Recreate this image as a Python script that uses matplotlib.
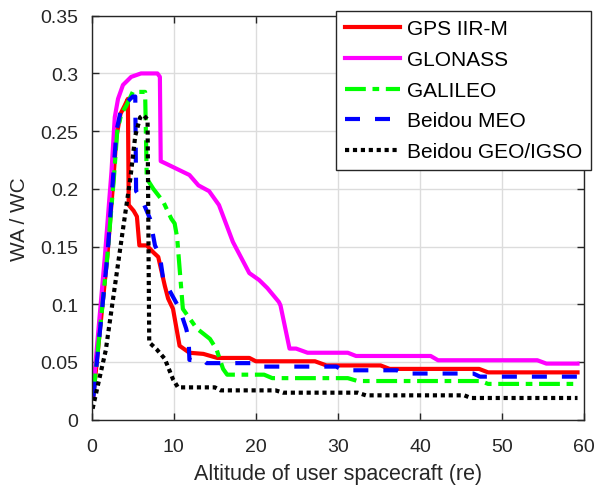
import matplotlib
matplotlib.use('Agg')
import matplotlib.pyplot as plt

plt.rcParams['font.family'] = ['Liberation Sans', 'DejaVu Sans']
plt.rcParams['font.size'] = 14

# WA/WC ratio versus user altitude for each constellation
x_gps = [0.2, 1.9, 2.6, 3.0, 3.5, 4.0, 4.4, 4.5, 5.1, 5.5, 5.8, 6.7, 7.5, 8.1, 8.9, 9.3, 9.9,
         10.7, 11.9, 13.6, 15.3, 19.2, 20.0, 27.2, 28.6, 35.2, 36.3, 47.2, 48.3, 59.2]
y_gps = [0.021, 0.142, 0.205, 0.245, 0.265, 0.272, 0.278, 0.186, 0.181, 0.176, 0.151, 0.151,
         0.145, 0.141, 0.116, 0.105, 0.096, 0.064, 0.058, 0.057, 0.0535, 0.0535, 0.0506,
         0.0506, 0.047, 0.047, 0.044, 0.044, 0.041, 0.041]

x_glonass = [0.1, 1.6, 2.4, 2.8, 3.2, 3.8, 4.8, 6.0, 8.0, 8.3, 8.4, 9.0, 11.9, 13.0, 14.3,
             15.5, 17.2, 19.2, 20.4, 21.4, 22.8, 23.0, 24.1, 24.9, 26.3, 31.2, 32.2, 41.3,
             42.2, 54.3, 55.4, 59.2]
y_glonass = [0.02, 0.142, 0.215, 0.262, 0.278, 0.29, 0.297, 0.3, 0.3, 0.297, 0.224, 0.222,
             0.212, 0.203, 0.198, 0.186, 0.154, 0.127, 0.121, 0.114, 0.102, 0.099, 0.0616,
             0.0616, 0.058, 0.058, 0.0552, 0.0552, 0.0515, 0.0515, 0.0486, 0.0486]

x_galileo = [0.2, 1.9, 2.7, 3.1, 3.6, 4.2, 5.0, 6.5, 6.7, 7.5, 8.7, 9.7, 10.1, 10.4, 11.1,
             12.8, 14.4, 15.2, 16.0, 16.5, 21.0, 22.0, 31.2, 32.4, 47.4, 48.3, 59.2]
y_galileo = [0.022, 0.142, 0.21, 0.25, 0.265, 0.272, 0.284, 0.284, 0.209, 0.2, 0.189, 0.174,
             0.17, 0.158, 0.096, 0.079, 0.07, 0.061, 0.044, 0.039, 0.039, 0.036, 0.036,
             0.0335, 0.0335, 0.031, 0.031]

x_meo = [0.2, 1.9, 2.6, 3.0, 3.6, 4.4, 5.0, 5.3, 5.4, 6.1, 7.1, 7.7, 8.3, 8.7, 10.7, 11.5,
         11.8, 11.9, 13.6, 14.0, 19.8, 20.5, 29.8, 30.6, 37.2, 38.0, 46.5, 47.3, 59.2]
y_meo = [0.02, 0.142, 0.21, 0.25, 0.27, 0.276, 0.28, 0.28, 0.198, 0.191, 0.174, 0.151, 0.142,
         0.122, 0.096, 0.079, 0.07, 0.0518, 0.0515, 0.049, 0.049, 0.046, 0.046, 0.0428,
         0.0428, 0.040, 0.040, 0.0373, 0.0373]

x_geo = [0.1, 1.7, 2.9, 3.8, 4.7, 5.3, 5.9, 6.3, 6.8, 7.0, 7.9, 8.9, 9.9, 10.5, 15.0, 15.7,
         22.4, 23.3, 32.4, 33.4, 45.4, 46.2, 59.2]
y_geo = [0.0095, 0.06, 0.12, 0.165, 0.209, 0.246, 0.262, 0.264, 0.26, 0.067, 0.061, 0.0527,
         0.035, 0.028, 0.028, 0.0254, 0.0254, 0.0234, 0.0234, 0.0211, 0.0211, 0.0188, 0.0188]

labels = ['GPS IIR-M', 'GLONASS', 'GALILEO', 'Beidou MEO', 'Beidou GEO/IGSO']

fig = plt.figure(figsize=(5.96, 4.89), dpi=100)
ax = fig.add_axes([0.154, 0.1397, 0.826, 0.8261])

lw = 3
ax.plot(x_gps, y_gps, color='#ff0000', lw=lw, label=labels[0])
ax.plot(x_glonass, y_glonass, color='#ff00ff', lw=lw, label=labels[1])
ax.plot(x_galileo, y_galileo, color='#00ff00', lw=lw, linestyle=(0, (5, 1.6, 1.6, 1.6)), label=labels[2])
ax.plot(x_meo, y_meo, color='#0000ff', lw=lw, linestyle=(0, (3.6, 3.6)), label=labels[3])
ax.plot(x_geo, y_geo, color='black', lw=lw, linestyle=(0, (1, 0.9)), label=labels[4])

ax.set_xlim(0, 60)
ax.set_ylim(0, 0.35)
ax.set_xticks([0, 10, 20, 30, 40, 50, 60])
ax.set_yticks([0, 0.05, 0.1, 0.15, 0.2, 0.25, 0.3, 0.35])
ax.set_yticklabels(['0', '0.05', '0.1', '0.15', '0.2', '0.25', '0.3', '0.35'])
ax.grid(True, color='#dcdcdc', lw=1)
ax.set_axisbelow(True)
ax.tick_params(direction='in', length=5, width=1, top=True, right=True,
               colors='#262626', labelcolor='#262626', labelsize=14)
ax.tick_params(axis='x', pad=13)
ax.tick_params(axis='y', pad=10)
for s in ax.spines.values():
    s.set_color('#262626')
    s.set_linewidth(1)

ax.set_xlabel('Altitude of user spacecraft (re)', color='#262626', fontsize=15.5, labelpad=6)
ax.set_ylabel('WA / WC', color='#262626', fontsize=15, labelpad=8)

leg = ax.legend(loc='upper right', bbox_to_anchor=(0.992, 0.976), bbox_transform=fig.transFigure,
                borderaxespad=0, fancybox=False, framealpha=1, edgecolor='#262626',
                handlelength=2.65, handletextpad=0.35, labelspacing=0.56, borderpad=0.42,
                fontsize=15)
leg.get_frame().set_linewidth(1)

fig.savefig('out.png', dpi=100)
